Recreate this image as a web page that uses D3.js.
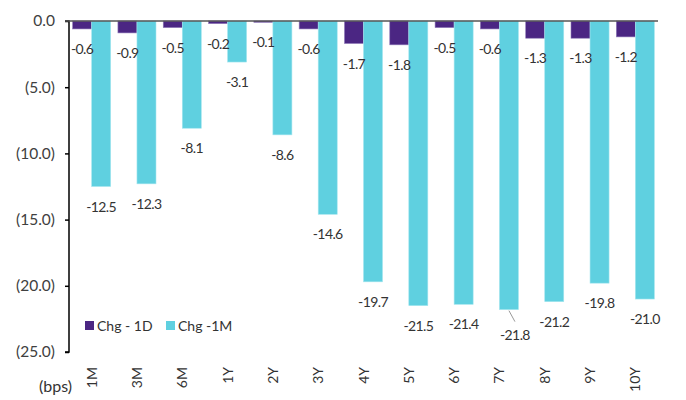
<!DOCTYPE html>
<html>
<head>
<meta charset="utf-8">
<script src="https://cdn.jsdelivr.net/npm/d3@7"></script>
<style>
  body { margin: 0; background: #fff; }
  text { font-family: Lato, "Open Sans", sans-serif; fill: #333; }
</style>
</head>
<body>
<svg id="chart" width="686" height="400"></svg>
<script>
// tenors and the two change series (bps)
var tenors = ["1M", "3M", "6M", "1Y", "2Y", "3Y", "4Y", "5Y", "6Y", "7Y", "8Y", "9Y", "10Y"];
var chg1D = [-0.6, -0.9, -0.5, -0.2, -0.1, -0.6, -1.7, -1.8, -0.5, -0.6, -1.3, -1.3, -1.2];
var chg1M = [-12.5, -12.3, -8.1, -3.1, -8.6, -14.6, -19.7, -21.5, -21.4, -21.8, -21.2, -19.8, -21.0];
var yTicks = [0, -5, -10, -15, -20, -25];
var seriesNames = ["Chg - 1D", "Chg -1M"];
var colors = ["#4b2683", "#5fd0e0"];

var svg = d3.select("#chart");
var pLeft = 69, pRight = 658, pTop = 21, pBottom = 352;

var x = d3.scaleBand().domain(tenors).range([pLeft, pRight]).paddingInner(0.16).paddingOuter(0.08);
var sub = d3.scaleBand().domain([0, 1]).range([0, x.bandwidth()]);
var y = d3.scaleLinear().domain([0, -25]).range([pTop, pBottom]);

var f1 = d3.format(".1f");
function num(v) { return f1(v).replace("\u2212", "-"); }
function fmt(v) {
  if (v == 0) return "0.0";
  return v < 0 ? "(" + num(-v) + ")" : num(v);
}

// bars
var series = [chg1D, chg1M];
var strokes = ["#8f7bb8", "#a6e6ef"];
series.forEach(function(vals, s) {
  svg.append("g").selectAll("rect")
    .data(vals)
    .enter().append("rect")
      .attr("x", function(d, i) { return x(tenors[i]) + sub(s); })
      .attr("y", y(0))
      .attr("width", sub.bandwidth())
      .attr("height", function(d) { return y(d) - y(0); })
      .attr("fill", colors[s])
      .attr("stroke", strokes[s])
      .attr("stroke-width", 0.6);
});

// y axis
var yAxis = d3.axisLeft(y).tickValues(yTicks).tickFormat(fmt).tickSize(4).tickPadding(10);
var ya = svg.append("g").attr("transform", "translate(" + pLeft + ",0)").call(yAxis);
ya.select(".domain").attr("stroke", "#000").attr("stroke-width", 1.5).attr("d", "M-4," + pTop + "H0V" + pBottom + "H-4");
ya.selectAll(".tick line").attr("stroke", "#000").attr("stroke-width", 1.5);
ya.selectAll(".tick text").style("font-size", "15.5px").style("fill", "#404040");

// zero line
svg.append("line")
  .attr("x1", pLeft - 4).attr("x2", pRight)
  .attr("y1", y(0)).attr("y2", y(0))
  .attr("stroke", "#555").attr("stroke-width", 1.5);

// x labels (rotated)
svg.append("g").selectAll("text")
  .data(tenors)
  .enter().append("text")
    .attr("transform", function(d) { return "translate(" + (x(d) + x.bandwidth() / 2 + 5) + ",367) rotate(-90)"; })
    .attr("text-anchor", "end")
    .style("font-size", "14px")
    .text(function(d) { return d; });

svg.append("text")
  .attr("x", 72).attr("y", 392)
  .attr("text-anchor", "end")
  .style("font-size", "16px")
  .text("(bps)");

// data labels
series.forEach(function(vals, s) {
  svg.append("g").selectAll("text")
    .data(vals)
    .enter().append("text")
      .attr("x", function(d, i) {
        var cx = x(tenors[i]) + sub(s) + sub.bandwidth() / 2;
        return (s == 1 && tenors[i] == "7Y") ? cx + 6 : cx;
      })
      .attr("y", function(d, i) {
        var off = (s == 1 && tenors[i] == "7Y") ? 30 : 25;
        return y(d) + off;
      })
      .attr("text-anchor", "middle")
      .style("font-size", "14px")
      .style("letter-spacing", "-0.6px")
      .text(function(d) { return num(d); });
});

// leader line for the 7Y label
var i7 = tenors.indexOf("7Y");
var c7 = x("7Y") + sub(1) + sub.bandwidth() / 2;
svg.append("line")
  .attr("x1", c7).attr("y1", y(chg1M[i7]) + 1)
  .attr("x2", c7 + 6).attr("y2", y(chg1M[i7]) + 12)
  .attr("stroke", "#999").attr("stroke-width", 1);

// legend
var lg = svg.append("g").attr("transform", "translate(85,326)");
var lx = [0, 81];
seriesNames.forEach(function(n, s) {
  lg.append("rect").attr("x", lx[s]).attr("y", -5).attr("width", 9).attr("height", 9).attr("fill", colors[s]);
  lg.append("text").attr("x", lx[s] + 12).attr("y", 5).style("font-size", "14px").text(n);
});
</script>
</body>
</html>
